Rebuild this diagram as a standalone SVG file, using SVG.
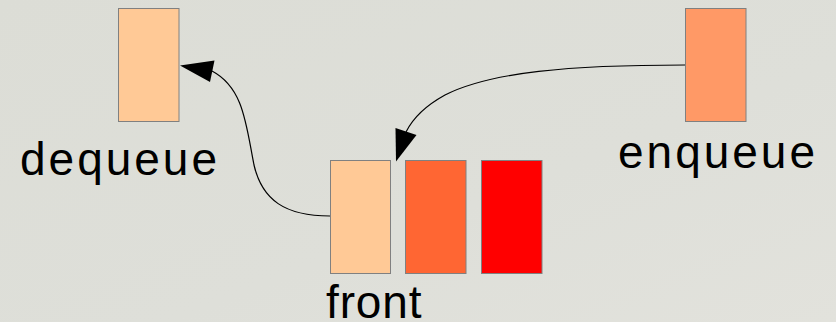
<svg xmlns="http://www.w3.org/2000/svg" width="836" height="322" viewBox="0 0 836 322">
  <defs>
    <linearGradient id="bg" x1="0" y1="0" x2="1" y2="1">
      <stop offset="0" stop-color="#dcddd6"/>
      <stop offset="0.6" stop-color="#dedfd9"/>
      <stop offset="1" stop-color="#e2e2dc"/>
    </linearGradient>
    <style>
      .cell { stroke: #808080; stroke-width: 1; }
      .label { font-family: "Liberation Sans", Arial, sans-serif; font-size: 46px; fill: #000; }
      .link { fill: none; stroke: #000; stroke-width: 1.2; }
      .head { fill: #000; stroke: none; }
    </style>
  </defs>

  <rect width="836" height="322" fill="url(#bg)"/>

  <!-- dequeued element -->
  <g id="dequeue">
    <rect class="cell" x="118.5" y="8.5" width="60.5" height="113" fill="#ffc996"/>
    <text class="label" x="20" y="175" textLength="197" lengthAdjust="spacing">dequeue</text>
  </g>

  <!-- element being enqueued -->
  <g id="enqueue">
    <rect class="cell" x="685.5" y="8.5" width="60.5" height="113" fill="#ff9966"/>
    <text class="label" x="618" y="168" textLength="197" lengthAdjust="spacing">enqueue</text>
  </g>

  <!-- the queue, front element first -->
  <g id="front">
    <rect class="cell" x="330.5" y="160.5" width="60" height="113" fill="#ffc996"/>
    <text class="label" x="326" y="318" textLength="95.5" lengthAdjust="spacing">front</text>
  </g>
  <g id="second">
    <rect class="cell" x="405.5" y="160.5" width="60.5" height="113" fill="#ff6633"/>
  </g>
  <g id="third">
    <rect class="cell" x="481.5" y="160.5" width="60.5" height="113" fill="#ff0000"/>
  </g>

  <!-- connectors -->
  <g id="connectors">
    <path class="link" d="M330,216 C285,216 262,200 254,165 C246,125 244,88 212,71"/>
    <polygon class="head" points="180,65.5 214.5,60.5 210,82"/>
    <path class="link" d="M685,65 C570,65 490,72 445,95 C425,106 412,120 406,132"/>
    <polygon class="head" points="396,161.5 395.5,128 416.5,135"/>
  </g>
</svg>
